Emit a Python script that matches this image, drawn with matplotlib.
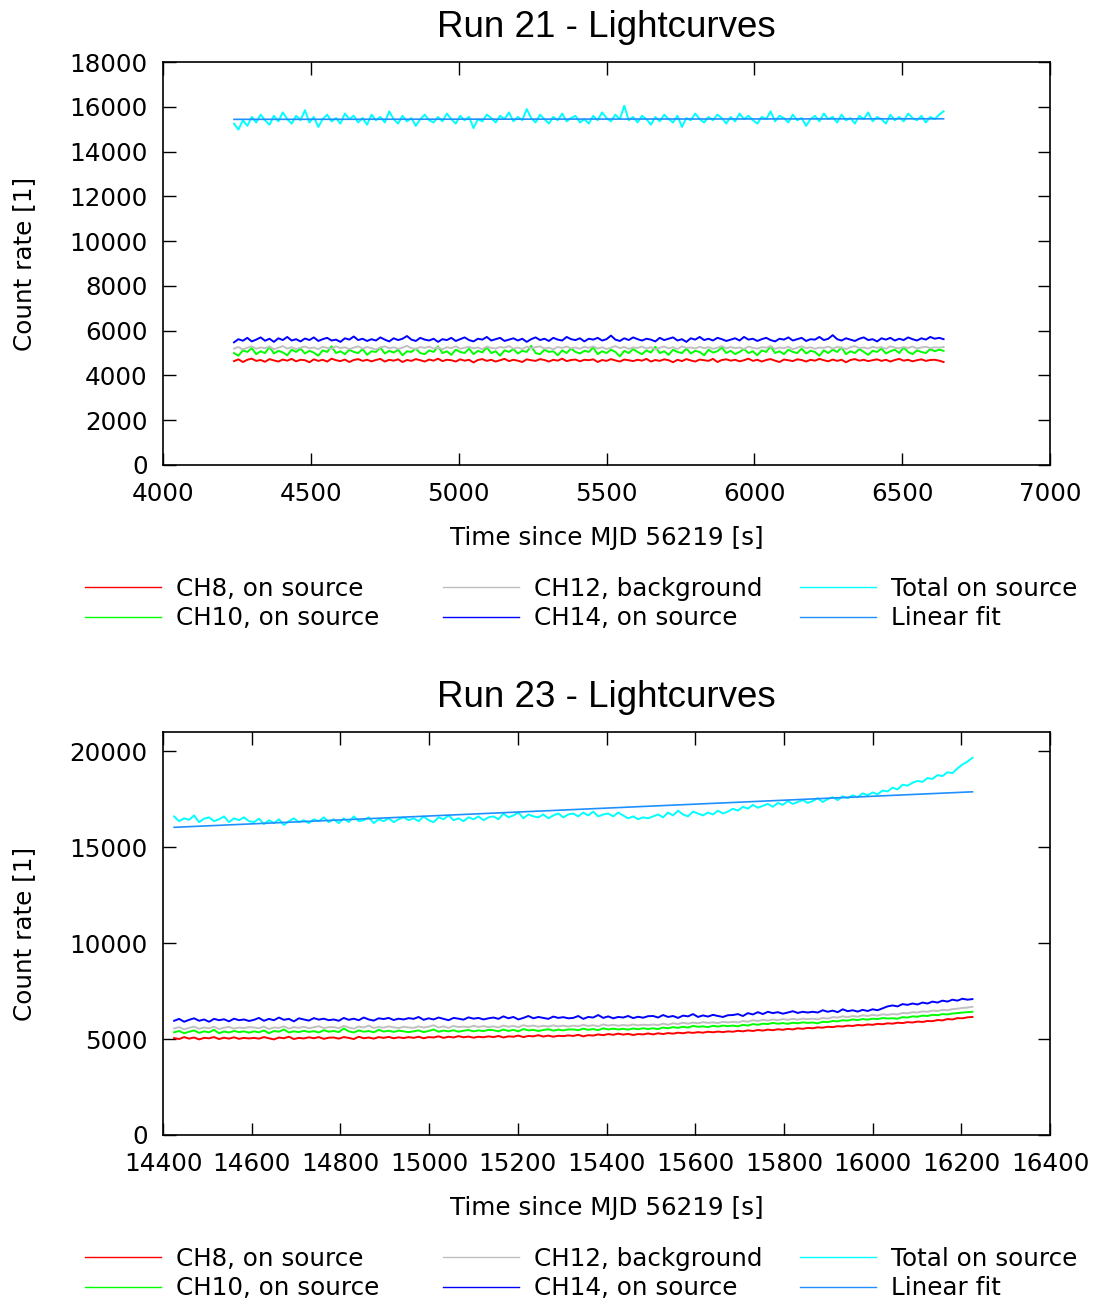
import numpy as np
import matplotlib
matplotlib.use('Agg')
import matplotlib.pyplot as plt

# ---- Run 21 ----
t21 = np.arange(4240, 6641, 15)
total21 = [
    15250, 14980, 15400, 15150, 15550, 15300, 15650, 15400, 15200, 15600, 15350, 15750, 15450, 15250, 15600, 15400,
    15850, 15300, 15550, 15100, 15450, 15650, 15350, 15500, 15250, 15700, 15450, 15600, 15300, 15500, 15200, 15650,
    15400, 15550, 15300, 15800, 15450, 15250, 15600, 15350, 15500, 15150, 15450, 15650, 15400, 15300, 15550, 15350,
    15700, 15450, 15250, 15600, 15400, 15550, 15050, 15450, 15350, 15650, 15500, 15300, 15600, 15450, 15750, 15350,
    15550, 15400, 15900, 15500, 15300, 15650, 15450, 15250, 15550, 15400, 15700, 15350, 15500, 15600, 15300, 15450,
    15250, 15600, 15400, 15750, 15500, 15350, 15650, 15450, 16050, 15400, 15550, 15300, 15600, 15450, 15200, 15550,
    15350, 15650, 15450, 15300, 15600, 15100, 15500, 15400, 15700, 15450, 15300, 15550, 15400, 15650, 15500, 15250,
    15550, 15350, 15700, 15450, 15600, 15400, 15250, 15550, 15450, 15800, 15350, 15600, 15500, 15300, 15650, 15400,
    15500, 15150, 15450, 15600, 15350, 15700, 15450, 15550, 15300, 15650, 15400, 15500, 15250, 15600, 15450, 15750,
    15350, 15550, 15450, 15250, 15650, 15400, 15550, 15350, 15700, 15500, 15400, 15600, 15300, 15550, 15450, 15650,
    15800]
ch14_21 = [
    5480, 5620, 5550, 5680, 5520, 5600, 5700, 5550, 5640, 5500, 5660, 5580, 5720, 5560, 5620, 5520,
    5650, 5580, 5700, 5540, 5620, 5680, 5560, 5600, 5500, 5660, 5600, 5740, 5580, 5640, 5540, 5620,
    5560, 5700, 5600, 5520, 5660, 5580, 5640, 5760, 5600, 5540, 5680, 5600, 5560, 5640, 5500, 5620,
    5580, 5680, 5540, 5620, 5700, 5580, 5520, 5640, 5600, 5720, 5560, 5620, 5680, 5540, 5600, 5660,
    5560, 5640, 5500, 5620, 5700, 5580, 5640, 5540, 5680, 5600, 5560, 5720, 5620, 5580, 5660, 5520,
    5640, 5600, 5680, 5560, 5620, 5780, 5600, 5540, 5660, 5580, 5700, 5620, 5560, 5640, 5600, 5520,
    5680, 5580, 5640, 5700, 5560, 5620, 5500, 5660, 5600, 5720, 5580, 5640, 5560, 5680, 5620, 5540,
    5600, 5660, 5560, 5720, 5600, 5640, 5540, 5620, 5680, 5580, 5520, 5640, 5600, 5700, 5560, 5620,
    5680, 5540, 5620, 5600, 5720, 5580, 5640, 5800, 5620, 5560, 5660, 5600, 5540, 5640, 5700, 5580,
    5620, 5520, 5660, 5600, 5680, 5560, 5640, 5580, 5700, 5620, 5560, 5660, 5600, 5720, 5640, 5680,
    5620]
ch12_21 = [
    5200, 5270, 5160, 5240, 5300, 5190, 5250, 5220, 5290, 5170, 5240, 5310, 5200, 5260, 5180, 5240,
    5290, 5210, 5250, 5170, 5280, 5230, 5190, 5300, 5220, 5260, 5180, 5240, 5300, 5200, 5270, 5220,
    5160, 5250, 5300, 5210, 5260, 5190, 5240, 5320, 5220, 5180, 5270, 5230, 5290, 5200, 5250, 5170,
    5260, 5220, 5300, 5190, 5240, 5280, 5210, 5250, 5170, 5290, 5230, 5200, 5270, 5240, 5310, 5200,
    5250, 5180, 5280, 5220, 5260, 5300, 5200, 5240, 5170, 5270, 5230, 5290, 5210, 5250, 5190, 5280,
    5230, 5300, 5200, 5260, 5180, 5240, 5310, 5220, 5270, 5190, 5250, 5230, 5290, 5200, 5260, 5170,
    5240, 5290, 5210, 5260, 5180, 5300, 5230, 5250, 5200, 5280, 5220, 5260, 5190, 5240, 5310, 5210,
    5270, 5220, 5250, 5180, 5290, 5230, 5200, 5260, 5240, 5300, 5190, 5250, 5220, 5280, 5170, 5240,
    5300, 5220, 5260, 5190, 5250, 5230, 5290, 5200, 5270, 5240, 5180, 5260, 5310, 5220, 5250, 5200,
    5280, 5230, 5260, 5190, 5300, 5240, 5210, 5270, 5230, 5290, 5200, 5250, 5280, 5220, 5260, 5240,
    5270]
ch10_21 = [
    5000, 4880, 5120, 5050, 5220, 4950, 5080, 5000, 5280, 4980, 5100, 5030, 4900, 5150, 5050, 5200,
    4980, 5100, 5020, 4880, 5120, 5050, 5300, 5000, 5080, 4950, 5150, 5050, 5000, 5180, 4920, 5080,
    5050, 5250, 4980, 5100, 5020, 5150, 4900, 5080, 5050, 5200, 5000, 4950, 5120, 5050, 5300, 5000,
    5080, 4920, 5150, 5050, 5000, 5200, 4950, 5100, 5030, 5250, 5000, 5080, 4880, 5120, 5050, 5180,
    4980, 5100, 5050, 5320, 5000, 4950, 5150, 5050, 5080, 4900, 5120, 5000, 5200, 5050, 4980, 5100,
    5050, 5250, 4950, 5080, 5000, 5150, 5050, 4850, 5100, 5000, 5180, 5050, 4950, 5120, 5020, 5280,
    5000, 5080, 4920, 5150, 5050, 5000, 5200, 4980, 5100, 5050, 4900, 5150, 5020, 5080, 5250, 5000,
    5100, 4950, 5050, 5180, 5000, 5080, 4900, 5120, 5050, 5300, 5000, 5080, 4950, 5150, 5050, 5000,
    5200, 4980, 5100, 5050, 4880, 5120, 5000, 5150, 5050, 5250, 4950, 5080, 5000, 5180, 5050, 4920,
    5100, 5050, 5200, 4980, 5080, 5150, 5000, 5250, 5050, 4950, 5120, 5050, 5000, 5180, 5080, 5150,
    5100]
ch8_21 = [
    4640, 4720, 4600, 4700, 4750, 4650, 4690, 4610, 4730, 4670, 4620, 4710, 4660, 4740, 4630, 4700,
    4680, 4590, 4720, 4650, 4700, 4620, 4750, 4680, 4640, 4710, 4600, 4690, 4730, 4650, 4700, 4630,
    4690, 4740, 4620, 4700, 4660, 4720, 4600, 4690, 4650, 4730, 4680, 4620, 4710, 4660, 4750, 4640,
    4700, 4680, 4620, 4720, 4660, 4700, 4580, 4690, 4730, 4650, 4700, 4620, 4680, 4740, 4640, 4700,
    4660, 4600, 4720, 4680, 4650, 4730, 4690, 4620, 4700, 4660, 4750, 4640, 4690, 4710, 4630, 4700,
    4680, 4720, 4600, 4690, 4650, 4730, 4670, 4620, 4710, 4680, 4640, 4700, 4660, 4740, 4620, 4690,
    4650, 4720, 4680, 4590, 4700, 4640, 4730, 4670, 4620, 4710, 4680, 4650, 4740, 4600, 4690, 4720,
    4660, 4700, 4630, 4680, 4750, 4650, 4700, 4620, 4690, 4730, 4660, 4600, 4710, 4680, 4640, 4720,
    4690, 4620, 4700, 4660, 4740, 4680, 4630, 4710, 4650, 4700, 4590, 4690, 4730, 4660, 4700, 4640,
    4680, 4720, 4650, 4700, 4620, 4690, 4740, 4660, 4700, 4630, 4680, 4720, 4650, 4690, 4700, 4660,
    4600]
fit21_t = [4240, 6640]
fit21 = [15440, 15465]

# ---- Run 23 ----
t23 = np.linspace(14425, 16225, 161)
total23 = [
    16600, 16350, 16500, 16420, 16650, 16300, 16480, 16550, 16350, 16450, 16600, 16300, 16500, 16400, 16550, 16350,
    16300, 16480, 16200, 16400, 16250, 16450, 16150, 16350, 16500, 16300, 16400, 16250, 16450, 16350, 16550, 16300,
    16450, 16250, 16500, 16300, 16600, 16350, 16400, 16550, 16250, 16450, 16350, 16500, 16300, 16450, 16550, 16400,
    16500, 16350, 16600, 16400, 16300, 16550, 16450, 16650, 16400, 16500, 16350, 16550, 16450, 16600, 16400, 16550,
    16600, 16450, 16750, 16550, 16650, 16800, 16500, 16700, 16600, 16550, 16700, 16500, 16650, 16750, 16550, 16700,
    16750, 16600, 16800, 16650, 16850, 16600, 16700, 16750, 16600, 16800, 16650, 16500, 16600, 16450, 16550, 16500,
    16600, 16700, 16550, 16800, 16650, 16900, 16700, 16600, 16850, 16750, 16650, 16800, 16700, 16900, 16750, 16850,
    17000, 16900, 17100, 17000, 17200, 17050, 17150, 17250, 17100, 17300, 17200, 17400, 17250, 17350, 17450, 17300,
    17400, 17550, 17350, 17500, 17600, 17450, 17650, 17550, 17700, 17600, 17800, 17700, 17850, 17750, 17950, 17900,
    18100, 18000, 18250, 18200, 18350, 18450, 18400, 18600, 18550, 18750, 18700, 18900, 18850, 19100, 19300, 19450,
    19650]
ch14_23 = [
    5950, 6050, 5900, 6000, 6080, 5950, 6020, 5900, 6050, 5980, 6030, 5920, 6060, 5980, 6020, 5940,
    6000, 6100, 5950, 6050, 5980, 6120, 6000, 6050, 5920, 6080, 6020, 5960, 6090, 6010, 6060, 5980,
    6020, 5950, 6100, 6000, 6060, 5980, 6120, 6020, 5960, 6080, 6040, 6100, 5990, 6060, 6020, 6090,
    6050, 6150, 6000, 6080, 6020, 6120, 6050, 5980, 6100, 6060, 6010, 6130, 6060, 6100, 6020, 6080,
    6120, 6050, 6180, 6080, 6150, 6020, 6100, 6200, 6080, 6150, 6100, 6050, 6170, 6100, 6140, 6080,
    6100, 6200, 6050, 6150, 6120, 6250, 6100, 6180, 6080, 6150, 6120, 6200, 6090, 6160, 6110, 6190,
    6200, 6120, 6250, 6150, 6200, 6100, 6220, 6180, 6300, 6150, 6230, 6170, 6260, 6200, 6150, 6240,
    6250, 6300, 6200, 6350, 6280, 6400, 6300, 6420, 6350, 6400, 6320, 6380, 6450, 6360, 6420, 6380,
    6420, 6380, 6500, 6420, 6480, 6400, 6550, 6450, 6500, 6430, 6520, 6460, 6550, 6500, 6600, 6700,
    6750, 6700, 6820, 6780, 6850, 6800, 6900, 6850, 6950, 6900, 7000, 6950, 7050, 7000, 7100, 7050,
    7080]
ch12_23 = [
    5550, 5620, 5500, 5580, 5650, 5530, 5600, 5560, 5640, 5520, 5590, 5630, 5540, 5600, 5570, 5620,
    5600, 5560, 5650, 5520, 5600, 5580, 5660, 5540, 5620, 5580, 5640, 5560, 5610, 5670, 5570, 5620,
    5620, 5560, 5680, 5600, 5540, 5650, 5600, 5700, 5580, 5620, 5590, 5660, 5610, 5570, 5640, 5600,
    5580, 5660, 5600, 5640, 5720, 5600, 5660, 5580, 5680, 5620, 5650, 5610, 5690, 5630, 5670, 5620,
    5660, 5600, 5700, 5640, 5680, 5620, 5720, 5660, 5700, 5640, 5690, 5650, 5710, 5660, 5700, 5650,
    5700, 5660, 5740, 5680, 5720, 5660, 5760, 5700, 5740, 5690, 5730, 5700, 5760, 5710, 5750, 5720,
    5760, 5720, 5800, 5740, 5820, 5780, 5850, 5800, 5860, 5820, 5880, 5840, 5870, 5830, 5900, 5860,
    5900, 5860, 5940, 5900, 5980, 5940, 6000, 5960, 6020, 5980, 6040, 6000, 6050, 6010, 6060, 6030,
    6060, 6020, 6100, 6060, 6140, 6120, 6180, 6140, 6200, 6160, 6240, 6200, 6260, 6220, 6290, 6260,
    6300, 6280, 6360, 6340, 6400, 6380, 6440, 6420, 6480, 6460, 6520, 6500, 6560, 6580, 6620, 6640,
    6680]
ch10_23 = [
    5350, 5420, 5300, 5380, 5450, 5320, 5400, 5350, 5480, 5300, 5390, 5340, 5420, 5360, 5400, 5330,
    5400, 5350, 5450, 5300, 5420, 5380, 5500, 5340, 5400, 5360, 5430, 5370, 5410, 5340, 5460, 5380,
    5420, 5360, 5550, 5400, 5340, 5450, 5380, 5420, 5350, 5480, 5390, 5430, 5370, 5440, 5400, 5360,
    5400, 5450, 5360, 5420, 5500, 5380, 5440, 5400, 5460, 5380, 5430, 5470, 5400, 5450, 5410, 5480,
    5460, 5400, 5500, 5420, 5480, 5400, 5520, 5450, 5480, 5420, 5470, 5510, 5440, 5490, 5450, 5500,
    5500, 5460, 5540, 5480, 5520, 5460, 5560, 5500, 5540, 5500, 5530, 5490, 5550, 5510, 5560, 5520,
    5560, 5520, 5600, 5560, 5620, 5580, 5640, 5600, 5680, 5640, 5660, 5620, 5690, 5650, 5700, 5670,
    5700, 5660, 5740, 5700, 5780, 5740, 5800, 5780, 5840, 5800, 5830, 5790, 5850, 5820, 5870, 5840,
    5860, 5820, 5900, 5880, 5940, 5920, 5980, 5960, 6020, 5990, 6040, 6010, 6060, 6040, 6090, 6070,
    6080, 6060, 6140, 6120, 6180, 6160, 6220, 6200, 6260, 6240, 6300, 6280, 6330, 6350, 6380, 6400,
    6420]
ch8_23 = [
    5050, 5000, 5100, 5020, 5080, 4980, 5060, 5040, 5100, 5000, 5070, 5020, 5090, 5010, 5060, 5030,
    5060, 5020, 5100, 5040, 4980, 5080, 5040, 5120, 5000, 5060, 5030, 5090, 5040, 5100, 5010, 5070,
    5080, 5020, 5100, 5060, 5000, 5120, 5040, 5080, 5020, 5100, 5060, 5110, 5040, 5090, 5050, 5100,
    5060, 5120, 5040, 5100, 5080, 5140, 5060, 5120, 5080, 5150, 5090, 5130, 5070, 5120, 5090, 5140,
    5100, 5160, 5080, 5140, 5120, 5180, 5100, 5160, 5140, 5200, 5130, 5180, 5120, 5170, 5150, 5190,
    5160, 5220, 5140, 5200, 5180, 5240, 5200, 5260, 5220, 5280, 5230, 5270, 5210, 5260, 5240, 5290,
    5240, 5300, 5260, 5310, 5280, 5330, 5300, 5350, 5320, 5360, 5330, 5380, 5350, 5390, 5360, 5400,
    5380, 5430, 5400, 5450, 5420, 5470, 5440, 5490, 5460, 5510, 5480, 5530, 5500, 5560, 5530, 5580,
    5560, 5610, 5590, 5640, 5620, 5670, 5650, 5700, 5680, 5730, 5710, 5760, 5740, 5790, 5770, 5820,
    5800, 5850, 5830, 5880, 5860, 5910, 5890, 5940, 5930, 5990, 5970, 6040, 6020, 6090, 6080, 6130,
    6150]
fit23_t = [14425, 16225]
fit23 = [16030, 17880]

labels = ['CH8, on source', 'CH10, on source', 'CH12, background',
          'CH14, on source', 'Total on source', 'Linear fit']
colors = ['#ff0000', '#00ff00', '#c0c0c0', '#0000ff', '#00ffff', '#1e90ff']

FS = 17.7
plt.rcParams['font.family'] = ['DejaVu Sans']


def draw_panel(fig, rect, title, t, series, fit_t, fit_y, xlim, xticks, ylim, yticks, legend_y):
    ax = fig.add_axes(rect)
    lines = []
    for y, c, lab in zip(series, colors[:5], labels[:5]):
        ln, = ax.plot(t, y, color=c, lw=1.4, label=lab)
        lines.append(ln)
    ln, = ax.plot(fit_t, fit_y, color=colors[5], lw=1.2, label=labels[5])
    lines.append(ln)

    ax.set_xlim(*xlim)
    ax.set_ylim(*ylim)
    ax.set_xticks(xticks)
    ax.set_yticks(yticks)
    ax.tick_params(direction='in', length=9, width=1, top=True, right=True,
                   labelsize=FS)
    ax.tick_params(axis='y', pad=11)
    ax.tick_params(axis='x', pad=12)
    for sp in ax.spines.values():
        sp.set_linewidth(1.2)

    ax.set_title(title, family='Liberation Sans', fontsize=26.5, pad=18)
    ax.set_xlabel('Time since MJD 56219 [s]', fontsize=FS)
    ax.set_ylabel('Count rate [1]', fontsize=FS)
    ax.xaxis.set_label_coords(0.5, -0.152)
    ax.yaxis.set_label_coords(-0.143, 0.5)

    # three legend columns of two entries each
    for k, x0 in enumerate([0.0774, 0.4035, 0.7286]):
        pair = lines[2 * k:2 * k + 2]
        leg = fig.legend(pair, [l.get_label() for l in pair], loc='center left',
                         bbox_to_anchor=(x0, legend_y), frameon=False,
                         fontsize=FS, handlelength=3.1, handletextpad=0.6,
                         labelspacing=0.22, borderpad=0, borderaxespad=0)
        for h in leg.legend_handles:
            h.set_linewidth(1.0)
    return ax


fig = plt.figure(figsize=(10.98, 13.01), dpi=100)

draw_panel(fig, [0.1485, 0.6426, 0.8078, 0.3097], 'Run 21 - Lightcurves',
           t21, [ch8_21, ch10_21, ch12_21, ch14_21, total21], fit21_t, fit21,
           (4000, 7000), np.arange(4000, 7001, 500),
           (0, 18000), np.arange(0, 18001, 2000), 0.5361)

draw_panel(fig, [0.1485, 0.1276, 0.8078, 0.3098], 'Run 23 - Lightcurves',
           t23, [ch8_23, ch10_23, ch12_23, ch14_23, total23], fit23_t, fit23,
           (14400, 16400), np.arange(14400, 16401, 200),
           (0, 21000), np.arange(0, 20001, 5000), 0.0212)

fig.savefig('out.png', dpi=100)
